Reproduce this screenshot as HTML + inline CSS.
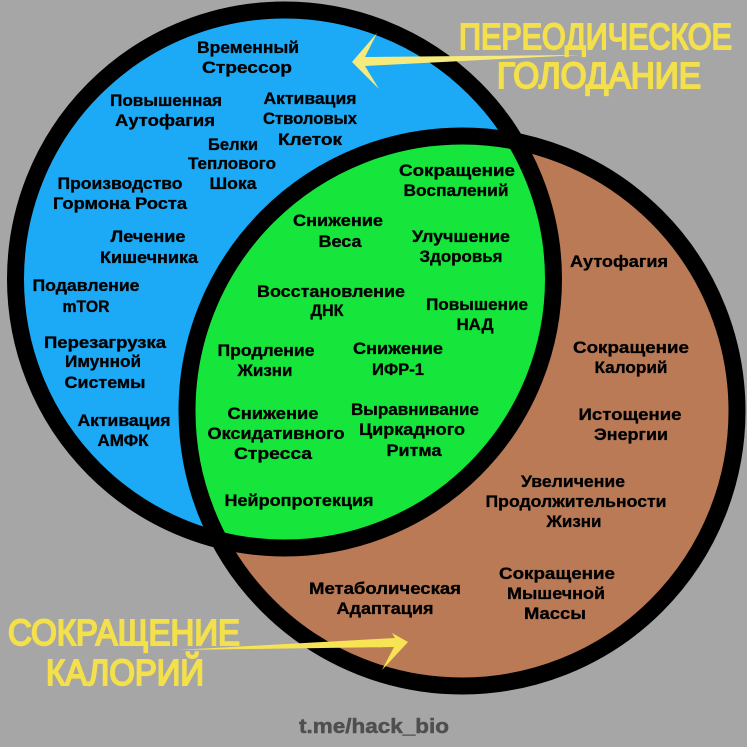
<!DOCTYPE html>
<html><head><meta charset="utf-8"><style>
html,body{margin:0;padding:0;background:#a6a6a6;width:747px;height:747px;overflow:hidden}
svg{display:block}
text{font-family:"Liberation Sans","DejaVu Sans",sans-serif;font-weight:bold;text-anchor:middle;font-size:17px;fill:#050505;stroke:#050505;stroke-width:.35px}
.y{font-size:32px;fill:#f3e04c;font-weight:normal;stroke:#f3e04c;stroke-width:1.7px}
</style></head><body>
<svg width="747" height="747" viewBox="0 0 747 747" xmlns="http://www.w3.org/2000/svg">
<defs>
<clipPath id="cb"><circle cx="284.5" cy="279" r="277"/></clipPath>
<filter id="s" filterUnits="userSpaceOnUse" x="0" y="0" width="747" height="747"><feGaussianBlur stdDeviation="0.35"/></filter>
</defs>
<rect width="747" height="747" fill="#a6a6a6"/>
<g filter="url(#s)">
<circle cx="284.5" cy="279" r="269" fill="#1caaf7"/>
<circle cx="462" cy="411" r="275" fill="#bb7a56"/>
<circle cx="462" cy="411" r="275" fill="#14e53a" clip-path="url(#cb)"/>
<circle cx="284.5" cy="279" r="269" fill="none" stroke="#050505" stroke-width="17"/>
<circle cx="462" cy="411" r="275" fill="none" stroke="#050505" stroke-width="17"/>

<polygon points="352,62 377,33 365,57 580,55 365,66 379,89" fill="#f6ea7c"/>
<polygon points="408,642 392,633 395,638 177,650 394,647 382,670" fill="#f6e455"/>

<text x="248" y="53" textLength="102" lengthAdjust="spacingAndGlyphs">Временный</text>
<text x="247" y="73" textLength="90" lengthAdjust="spacingAndGlyphs">Стрессор</text>
<text x="166" y="106" textLength="112" lengthAdjust="spacingAndGlyphs">Повышенная</text>
<text x="165" y="126" textLength="100" lengthAdjust="spacingAndGlyphs">Аутофагия</text>
<text x="310" y="104" textLength="93" lengthAdjust="spacingAndGlyphs">Активация</text>
<text x="310" y="124" textLength="94" lengthAdjust="spacingAndGlyphs">Стволовых</text>
<text x="310" y="145" textLength="64" lengthAdjust="spacingAndGlyphs">Клеток</text>
<text x="233" y="150" textLength="50" lengthAdjust="spacingAndGlyphs">Белки</text>
<text x="232" y="169" textLength="88" lengthAdjust="spacingAndGlyphs">Теплового</text>
<text x="233" y="189" textLength="47" lengthAdjust="spacingAndGlyphs">Шока</text>
<text x="120" y="189" textLength="125" lengthAdjust="spacingAndGlyphs">Производство</text>
<text x="120" y="209" textLength="134" lengthAdjust="spacingAndGlyphs">Гормона Роста</text>
<text x="148" y="242" textLength="75" lengthAdjust="spacingAndGlyphs">Лечение</text>
<text x="149" y="263" textLength="98" lengthAdjust="spacingAndGlyphs">Кишечника</text>
<text x="86" y="291" textLength="107" lengthAdjust="spacingAndGlyphs">Подавление</text>
<text x="86" y="312" textLength="47" lengthAdjust="spacingAndGlyphs">mTOR</text>
<text x="105" y="348" textLength="122" lengthAdjust="spacingAndGlyphs">Перезагрузка</text>
<text x="103" y="367" textLength="76" lengthAdjust="spacingAndGlyphs">Имунной</text>
<text x="105" y="388" textLength="81" lengthAdjust="spacingAndGlyphs">Системы</text>
<text x="124" y="426" textLength="93" lengthAdjust="spacingAndGlyphs">Активация</text>
<text x="123" y="446" textLength="51" lengthAdjust="spacingAndGlyphs">АМФК</text>

<text x="457" y="176" textLength="116" lengthAdjust="spacingAndGlyphs">Сокращение</text>
<text x="456" y="196" textLength="105" lengthAdjust="spacingAndGlyphs">Воспалений</text>
<text x="338" y="226" textLength="90" lengthAdjust="spacingAndGlyphs">Снижение</text>
<text x="340" y="247" textLength="43" lengthAdjust="spacingAndGlyphs">Веса</text>
<text x="461" y="242" textLength="98" lengthAdjust="spacingAndGlyphs">Улучшение</text>
<text x="461" y="262" textLength="83" lengthAdjust="spacingAndGlyphs">Здоровья</text>
<text x="331" y="297" textLength="148" lengthAdjust="spacingAndGlyphs">Восстановление</text>
<text x="327" y="316" textLength="33" lengthAdjust="spacingAndGlyphs">ДНК</text>
<text x="477" y="310" textLength="102" lengthAdjust="spacingAndGlyphs">Повышение</text>
<text x="475" y="330" textLength="37" lengthAdjust="spacingAndGlyphs">НАД</text>
<text x="266" y="356" textLength="97" lengthAdjust="spacingAndGlyphs">Продление</text>
<text x="265" y="376" textLength="55" lengthAdjust="spacingAndGlyphs">Жизни</text>
<text x="398" y="354" textLength="90" lengthAdjust="spacingAndGlyphs">Снижение</text>
<text x="398" y="375" textLength="52" lengthAdjust="spacingAndGlyphs">ИФР-1</text>
<text x="273" y="419" textLength="91" lengthAdjust="spacingAndGlyphs">Снижение</text>
<text x="276" y="439" textLength="137" lengthAdjust="spacingAndGlyphs">Оксидативного</text>
<text x="273" y="459" textLength="78" lengthAdjust="spacingAndGlyphs">Стресса</text>
<text x="415" y="415" textLength="128" lengthAdjust="spacingAndGlyphs">Выравнивание</text>
<text x="412" y="435" textLength="106" lengthAdjust="spacingAndGlyphs">Циркадного</text>
<text x="414" y="456" textLength="55" lengthAdjust="spacingAndGlyphs">Ритма</text>
<text x="299" y="506" textLength="149" lengthAdjust="spacingAndGlyphs">Нейропротекция</text>

<text x="619" y="267" textLength="98" lengthAdjust="spacingAndGlyphs">Аутофагия</text>
<text x="631" y="353" textLength="116" lengthAdjust="spacingAndGlyphs">Сокращение</text>
<text x="631" y="373" textLength="73" lengthAdjust="spacingAndGlyphs">Калорий</text>
<text x="630" y="420" textLength="103" lengthAdjust="spacingAndGlyphs">Истощение</text>
<text x="631" y="440" textLength="74" lengthAdjust="spacingAndGlyphs">Энергии</text>
<text x="573" y="487" textLength="104" lengthAdjust="spacingAndGlyphs">Увеличение</text>
<text x="576" y="507" textLength="181" lengthAdjust="spacingAndGlyphs">Продолжительности</text>
<text x="574" y="527" textLength="55" lengthAdjust="spacingAndGlyphs">Жизни</text>
<text x="385" y="594" textLength="152" lengthAdjust="spacingAndGlyphs">Метаболическая</text>
<text x="385" y="614" textLength="97" lengthAdjust="spacingAndGlyphs">Адаптация</text>
<text x="557" y="579" textLength="116" lengthAdjust="spacingAndGlyphs">Сокращение</text>
<text x="556" y="599" textLength="98" lengthAdjust="spacingAndGlyphs">Мышечной</text>
<text x="555" y="619" textLength="62" lengthAdjust="spacingAndGlyphs">Массы</text>

<text class="y" transform="translate(595.5,49) scale(1,1.12)" textLength="273" lengthAdjust="spacingAndGlyphs">ПЕРЕОДИЧЕСКОЕ</text>
<text class="y" transform="translate(599,88) scale(1,1.12)" textLength="204" lengthAdjust="spacingAndGlyphs">ГОЛОДАНИЕ</text>
<text class="y" transform="translate(124,645) scale(1,1.12)" textLength="232" lengthAdjust="spacingAndGlyphs">СОКРАЩЕНИЕ</text>
<text class="y" transform="translate(125,685) scale(1,1.12)" textLength="158" lengthAdjust="spacingAndGlyphs">КАЛОРИЙ</text>
<text x="374" y="733" textLength="150" lengthAdjust="spacingAndGlyphs" style="font-size:20px;fill:#4f4f4f;stroke:#4f4f4f;stroke-width:.5px">t.me/hack_bio</text>
</g>
</svg>
</body></html>
